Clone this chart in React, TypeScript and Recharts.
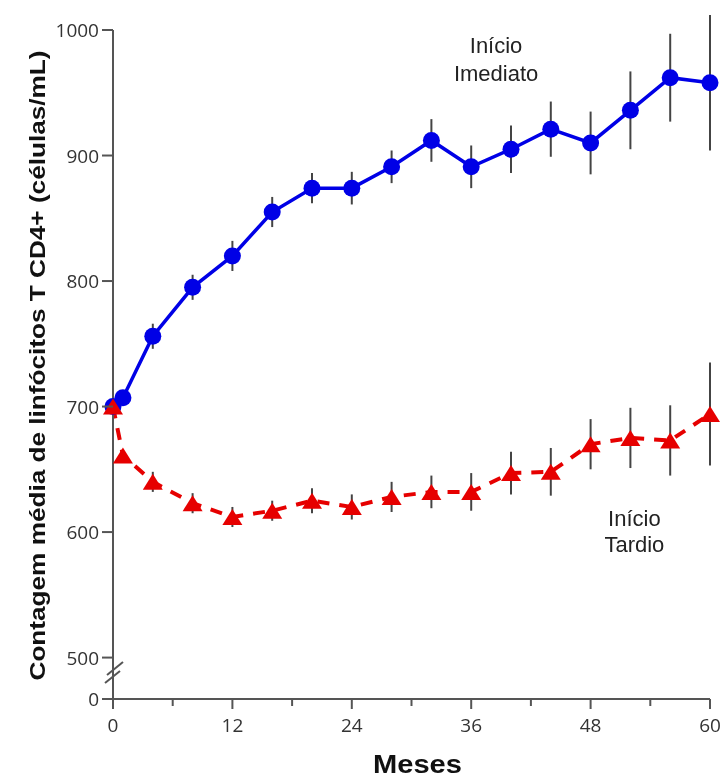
import { LineChart, Line, XAxis, YAxis, ErrorBar, ReferenceDot } from 'recharts';

const months = [0, 1, 4, 8, 12, 16, 20, 24, 28, 32, 36, 40, 44, 48, 52, 56, 60];
const imediato = [700, 707, 756, 795, 820, 855, 874, 874, 891, 912, 891, 905, 921, 910, 936, 962, 958];
const imediatoErr = [0, 4, 10, 10, 12, 12, 12, 13, 13, 17, 17, 19, 22, 25, 31, 35, 54];
const tardio = [700, 661, 640, 623, 612, 617, 625, 620, 628, 632, 632, 647, 648, 670, 675, 673, 694];
const tardioErr = [0, 4, 8, 8, 8, 8, 10, 10, 12, 13, 15, 17, 19, 20, 24, 28, 41];
const xTicks = [0, 6, 12, 18, 24, 30, 36, 42, 48, 54, 60];
// broken axis: the bottom of the domain is labelled "0"
const yZero = 467;
const yTicks = [yZero, 500, 600, 700, 800, 900, 1000];

const data = months.map((m, i) => ({
  month: m,
  imediato: imediato[i],
  imediatoErr: imediatoErr[i],
  tardio: tardio[i],
  tardioErr: tardioErr[i],
}));

const BLUE = '#0000e6';
const RED = '#e60000';
const AXIS = '#555';
const BAR = '#444';
const TICK_FONT = { fill: '#333', fontSize: 19, fontFamily: '"Open Sans", sans-serif' };
const ARIAL = '"Liberation Sans", Arial, sans-serif';

const XTick = (props: any) => {
  const { x, y, payload } = props;
  const major = payload.value % 12 === 0;
  return (
    <g>
      <line x1={x} y1={y} x2={x} y2={y + (major ? 10 : 7)} stroke={AXIS} strokeWidth={2} />
      {major && (
        <text x={x} y={y + 33} textAnchor="middle" {...TICK_FONT}>
          {payload.value}
        </text>
      )}
    </g>
  );
};

const YTick = (props: any) => {
  const { x, y, payload } = props;
  const isZero = payload.value === yZero;
  return (
    <g>
      <line x1={x - 11} y1={y} x2={x} y2={y} stroke={AXIS} strokeWidth={2} />
      <text x={x - 14} y={y + 7} textAnchor="end" {...TICK_FONT}>
        {isZero ? '0' : payload.value}
      </text>
      {isZero && (
        <g stroke={AXIS} strokeWidth={2}>
          <line x1={x - 6} y1={y - 24} x2={x + 10} y2={y - 37} />
          <line x1={x - 8} y1={y - 16} x2={x + 7} y2={y - 28} />
        </g>
      )}
    </g>
  );
};

const Triangle = (props: any) => {
  const { cx, cy, index } = props;
  return (
    <path
      key={`tri-${index}`}
      d={`M${cx},${cy - 8} L${cx + 10},${cy + 8} L${cx - 10},${cy + 8} Z`}
      fill={RED}
    />
  );
};

const twoLines = (l1: string, l2: string, gap: number) => (props: any) => {
  const { viewBox } = props;
  const cx = viewBox.x + (viewBox.width || 0) / 2;
  const cy = viewBox.y + (viewBox.height || 0) / 2;
  return (
    <text x={cx} y={cy} textAnchor="middle" fill="#222" fontSize={22} fontFamily={ARIAL}>
      <tspan x={cx} dy={0}>{l1}</tspan>
      <tspan x={cx} dy={gap}>{l2}</tspan>
    </text>
  );
};

const YTitle = (props: any) => {
  const { viewBox } = props;
  const cx = viewBox.x - 16;
  const cy = viewBox.y + viewBox.height / 2 + 1;
  return (
    <text
      x={cx}
      y={cy}
      transform={`rotate(-90, ${cx}, ${cy})`}
      textAnchor="middle"
      dominantBaseline="central"
      fill="#111"
      fontSize={22}
      fontWeight="bold"
      fontFamily={ARIAL}
      textLength={630}
      lengthAdjust="spacingAndGlyphs"
    >
      Contagem média de linfócitos T CD4+ (células/mL)
    </text>
  );
};

const XTitle = (props: any) => {
  const { viewBox } = props;
  const cx = viewBox.x + viewBox.width / 2 + 6;
  return (
    <text
      x={cx}
      y={773}
      textAnchor="middle"
      fill="#111"
      fontSize={25}
      fontWeight="bold"
      fontFamily={ARIAL}
      textLength={89}
      lengthAdjust="spacingAndGlyphs"
    >
      Meses
    </text>
  );
};

export default function App() {
  return (
    <div style={{ position: 'fixed', left: 0, top: 0 }}>
      <LineChart
        width={726}
        height={779}
        data={data}
        margin={{ top: 30, right: 16, left: 53, bottom: 30 }}
      >
        <XAxis
          dataKey="month"
          type="number"
          domain={[0, 60]}
          ticks={xTicks}
          interval={0}
          stroke={AXIS}
          strokeWidth={2}
          tickLine={false}
          tickSize={0}
          tickMargin={0}
          tick={<XTick />}
          height={50}
          label={<XTitle />}
        />
        <YAxis
          type="number"
          domain={[yZero, 1000]}
          allowDataOverflow
          ticks={yTicks}
          interval={0}
          stroke={AXIS}
          strokeWidth={2}
          tickLine={false}
          tickSize={0}
          tickMargin={0}
          tick={<YTick />}
          width={60}
          label={<YTitle />}
        />
        <Line
          dataKey="imediato"
          type="linear"
          stroke={BLUE}
          strokeWidth={3.5}
          dot={{ r: 8.5, fill: BLUE, stroke: 'none' }}
          isAnimationActive={false}
        >
          <ErrorBar dataKey="imediatoErr" width={0} stroke={BAR} strokeWidth={2} direction="y" />
        </Line>
        <Line
          dataKey="tardio"
          type="linear"
          stroke={RED}
          strokeWidth={4}
          strokeDasharray="12 10"
          dot={<Triangle />}
          isAnimationActive={false}
        >
          <ErrorBar dataKey="tardioErr" width={0} stroke={BAR} strokeWidth={2} direction="y" />
        </Line>
        <ReferenceDot x={38.5} y={982} r={0} fill="none" stroke="none" label={twoLines('Início', 'Imediato', 28)} />
        <ReferenceDot x={52.4} y={605} r={0} fill="none" stroke="none" label={twoLines('Início', 'Tardio', 26)} />
      </LineChart>
    </div>
  );
}
